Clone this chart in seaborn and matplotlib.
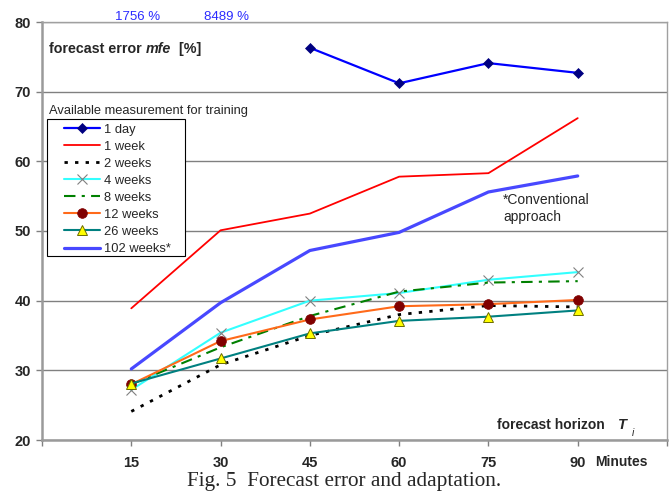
import matplotlib
matplotlib.use("Agg")
import matplotlib.pyplot as plt
import matplotlib.transforms as mtransforms
from matplotlib.patches import Rectangle
import seaborn as sns

# ---------------- data ----------------
minutes = [15, 30, 45, 60, 75, 90]
day1_minutes = [45, 60, 75, 90]
day1 = [76.3, 71.2, 74.1, 72.7]
offchart_minutes = [15, 30]
offchart_labels = ["1756 %", "8489 %"]
week1 = [38.9, 50.1, 52.5, 57.8, 58.3, 66.2]
weeks2 = [24.1, 30.8, 35.0, 38.0, 39.3, 39.1]
weeks4 = [27.2, 35.4, 40.0, 41.1, 43.0, 44.1]
weeks8 = [28.0, 33.3, 37.8, 41.3, 42.6, 42.8]
weeks12 = [28.0, 34.2, 37.3, 39.2, 39.5, 40.1]
weeks26 = [28.1, 31.7, 35.3, 37.1, 37.7, 38.6]
weeks102 = [30.2, 39.7, 47.2, 49.8, 55.6, 57.9]
series_names = ["1 day", "1 week", "2 weeks", "4 weeks", "8 weeks",
                "12 weeks", "26 weeks", "102 weeks*"]
x_tick_labels = ["15", "30", "45", "60", "75", "90"]
y_ticks = [20, 30, 40, 50, 60, 70, 80]

# ---------------- style ----------------
sns.set_theme(style="white")
plt.rcParams["font.family"] = ["Liberation Sans", "DejaVu Sans"]

fig = plt.figure(figsize=(6.69, 4.94), dpi=100)
ax = fig.add_axes([42 / 669, 1 - 440 / 494, 625 / 669, 418 / 494])

styles = [
    dict(x=day1_minutes, y=day1, color="#0000ff", lw=1.6, marker="D",
         markersize=5, markerfacecolor="#000080", markeredgecolor="#000080",
         markeredgewidth=0.5),
    dict(x=minutes, y=week1, color="#ff0000", lw=1.3),
    dict(x=minutes, y=weeks2, color="#000000", lw=2.0, linestyle=(0, (1.2, 2.6))),
    dict(x=minutes, y=weeks4, color="#33ffff", lw=1.5, marker="x",
         markersize=7, markeredgecolor="#808080", markeredgewidth=0.8),
    dict(x=minutes, y=weeks8, color="#008000", lw=1.5,
         linestyle=(0, (5.5, 3, 1.5, 3))),
    dict(x=minutes, y=weeks12, color="#ff6a1a", lw=1.5, marker="o",
         markersize=7, markerfacecolor="#800000", markeredgecolor="#800000",
         markeredgewidth=0.5),
    dict(x=minutes, y=weeks26, color="#008080", lw=1.5, marker="^",
         markersize=7.5, markerfacecolor="#ffff00", markeredgecolor="#6b6b00",
         markeredgewidth=0.7),
    dict(x=minutes, y=weeks102, color="#4848ff", lw=2.3),
]

handles = []
for name, st in zip(series_names, styles):
    st = dict(st)
    xs = st.pop("x")
    ys = st.pop("y")
    sns.lineplot(x=xs, y=ys, ax=ax, label=name, **st)
    handles.append(ax.get_lines()[-1])

# axes limits / ticks
ax.set_xlim(0, 105)
ax.set_ylim(20, 80)
ax.set_xticks([0] + minutes + [105])
ax.set_xticklabels([""] + x_tick_labels + [""])
ax.set_yticks(y_ticks)
ax.set_yticklabels([str(v) for v in y_ticks])
ax.tick_params(axis="both", which="both", direction="out", length=4,
               width=1, color="#808080", labelsize=10.5)
ax.tick_params(axis="x", pad=7.5, bottom=True)
ax.tick_params(axis="y", pad=4, left=True)
for lab in ax.get_xticklabels() + ax.get_yticklabels():
    lab.set_fontweight("bold")
ax.yaxis.grid(True, color="#808080", lw=1)
ax.xaxis.grid(False)
ax.set_axisbelow(True)
for side in ["left", "bottom"]:
    ax.spines[side].set_color("#9a9a9a")
    ax.spines[side].set_linewidth(1.8)
for side in ["top", "right"]:
    ax.spines[side].set_color("#a0a0a0")
    ax.spines[side].set_linewidth(1.0)
ax.set_xlabel("")
ax.set_ylabel("")

# legend (frame drawn separately so the handles get an indent like the original)
leg = ax.legend(handles=handles, labels=series_names, loc="upper left",
                bbox_to_anchor=((64 - 42) / 625, (440 - 123.5) / 418),
                borderaxespad=0, fontsize=9.3, frameon=False,
                labelspacing=0.39, handlelength=2.8, handletextpad=0.3,
                borderpad=0)
leg.set_zorder(5)
ax.add_patch(Rectangle(((47 - 42) / 625, (440 - 256) / 418),
                       (185 - 47) / 625, (256 - 119) / 418,
                       transform=ax.transAxes, facecolor="white",
                       edgecolor="black", lw=0.8, zorder=4))
ax.text(0.0115, 0.786, "Available measurement for training",
        transform=ax.transAxes, fontsize=9.3, va="center", ha="left")

# title text inside plot
t1 = ax.text(0.011, 0.927, "forecast error ", transform=ax.transAxes,
             fontsize=10.3, fontweight="bold", va="baseline", ha="left")
t2 = ax.annotate("mfe", xy=(1, 0), xycoords=t1, fontsize=10.3,
                 fontweight="bold", fontstyle="italic", va="bottom", ha="left")
ax.annotate("  [%]", xy=(1, 0), xycoords=t2, fontsize=10.3,
            fontweight="bold", va="bottom", ha="left")

# off-chart values of the 1 day series
trans = mtransforms.blended_transform_factory(ax.transData, ax.transAxes)
for m, lab in zip(offchart_minutes, offchart_labels):
    ax.annotate(lab, xy=(m, 1.012), xycoords=trans, xytext=(4.5, 0),
                textcoords="offset points", ha="center", va="center",
                fontsize=9.5, color="#2b2bff")

# annotation for conventional approach
ax.text(77.5, 55.5, "*Conventional\napproach", fontsize=10, va="top",
        ha="left", linespacing=1.3)

# forecast horizon label
h1 = ax.text(76.4, 0.036, "forecast horizon  ", transform=trans,
             fontsize=10, fontweight="bold", va="center", ha="left")
h2 = ax.annotate("T", xy=(1, 0), xycoords=h1, xytext=(4, 0),
                 textcoords="offset points", fontsize=10.5,
                 fontweight="bold", fontstyle="italic", va="bottom", ha="left")
ax.annotate("i", xy=(1, 0), xycoords=h2, xytext=(3.5, -4),
            textcoords="offset points", fontsize=7.5, fontstyle="italic",
            va="bottom", ha="left")

# Minutes unit label
ax.text(92.9, -0.0526, "Minutes", transform=trans, fontsize=10,
        fontweight="bold", va="center", ha="left")

# caption
fig.text(344 / 669, 1 - 481 / 494, "Fig. 5  Forecast error and adaptation.",
         fontsize=15.3, family=["Liberation Serif", "DejaVu Serif"],
         ha="center", va="center")

fig.savefig("out.png", dpi=100)
